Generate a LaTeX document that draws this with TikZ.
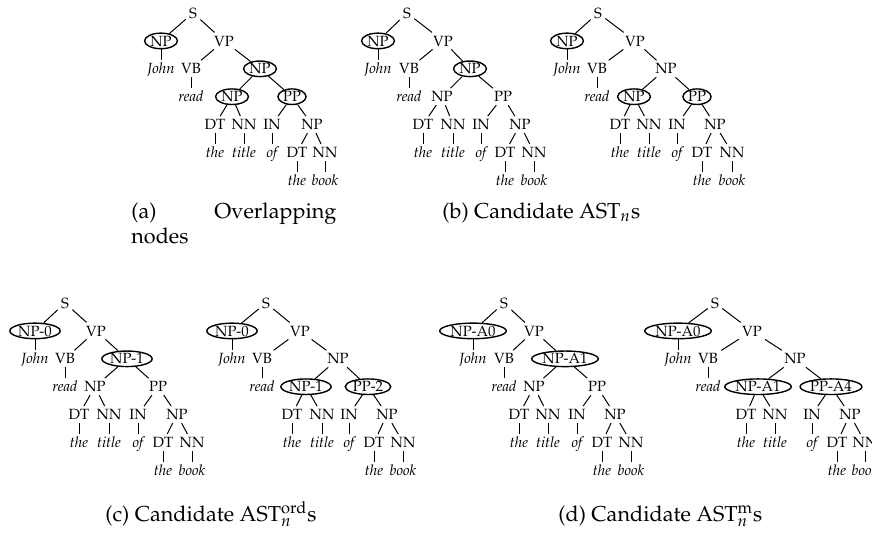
\documentclass[tikz,border=0pt]{standalone}
\usepackage[T1]{fontenc}
\usepackage{mathpazo}
\usetikzlibrary{shapes,calc}
\tikzset{
  lab/.style={inner sep=1.5pt,text height=5.1pt,text depth=0pt,font=\fontsize{7.4}{9}\selectfont},
  leaf/.style={lab,font=\fontsize{7.4}{9}\selectfont\itshape},
  ov/.style={lab,ellipse,draw,line width=.7pt,inner xsep=.5pt,inner ysep=.2pt},
  link/.style={line width=.5pt},
  capt/.style={inner sep=0pt,font=\fontsize{10.8}{13}\selectfont}
}
% one parse tree: prefix, y of the root, inner nodes name/x/row/style/label
\newcommand{\asttree}[3]{%
  \foreach \n/\x/\r/\s/\lbl in {#3}
    \node[\s] (#1\n) at (\x,#2+27.9*\r) {\lbl};
  \foreach \pa/\ch/\w in {np0/john/John,vb/read/read,dt1/the1/the,nn1/title/title,in/of/of,dt2/the2/the,nn2/book/book}
    \node[leaf] (#1\ch) at ($(#1\pa)+(0,27.9)$) {\w};
  \foreach \pa/\ch in {s/np0,s/vp,np0/john,vp/vb,vp/np1,vb/read,np1/np2,np1/pp,np2/dt1,np2/nn1,pp/in,pp/np3,dt1/the1,nn1/title,in/of,np3/dt2,np3/nn2,dt2/the2,nn2/book}
    \draw[link] (#1\pa) -- (#1\ch);
}
\begin{document}
\begin{tikzpicture}[x=0.5pt,y=-0.5pt]
\useasboundingbox (0,0) rectangle (872,532);
\clip (0,0) rectangle (872,532);
%(a) overlapping nodes
\asttree{a-}{13}{s/193/0/lab/S,np0/161/1/ov/NP,vp/224/1/lab/VP,vb/191/2/lab/VB,np1/260/2/ov/NP,np2/232/3/ov/NP,pp/292/3/ov/PP,
  dt1/215/4/lab/DT,nn1/244/4/lab/NN,in/272/4/lab/IN,np3/312/4/lab/NP,dt2/297/5/lab/DT,nn2/325/5/lab/NN}
%(b) candidates
\asttree{b-}{13}{s/407/0/lab/S,np0/378/1/ov/NP,vp/443/1/lab/VP,vb/409/2/lab/VB,np1/470/2/ov/NP,np2/442/3/lab/NP,pp/503/3/lab/PP,
  dt1/423/4/lab/DT,nn1/453/4/lab/NN,in/481/4/lab/IN,np3/520/4/lab/NP,dt2/505/5/lab/DT,nn2/534/5/lab/NN}
\asttree{bb-}{13}{s/598/0/lab/S,np0/567/1/ov/NP,vp/635/1/lab/VP,vb/597/2/lab/VB,np1/666/2/lab/NP,np2/634/3/ov/NP,pp/697/3/ov/PP,
  dt1/620/4/lab/DT,nn1/649/4/lab/NN,in/677/4/lab/IN,np3/715/4/lab/NP,dt2/702/5/lab/DT,nn2/732/5/lab/NN}
%(c) ord
\asttree{c-}{303}{s/65/0/lab/S,np0/35/1/ov/NP-0,vp/96/1/lab/VP,vb/65/2/lab/VB,np1/127/2/ov/NP-1,np2/95/3/lab/NP,pp/158/3/lab/PP,
  dt1/79/4/lab/DT,nn1/109/4/lab/NN,in/138/4/lab/IN,np3/177/4/lab/NP,dt2/163/5/lab/DT,nn2/192/5/lab/NN}
\asttree{cc-}{303}{s/266/0/lab/S,np0/232/1/ov/NP-0,vp/300/1/lab/VP,vb/262/2/lab/VB,np1/338/2/lab/NP,np2/306/3/ov/NP-1,pp/368/3/ov/PP-2,
  dt1/292/4/lab/DT,nn1/322/4/lab/NN,in/349/4/lab/IN,np3/387/4/lab/NP,dt2/374/5/lab/DT,nn2/403/5/lab/NN}
%(d) m
\asttree{d-}{303}{s/504/0/lab/S,np0/473/1/ov/NP-A0,vp/534/1/lab/VP,vb/504/2/lab/VB,np1/565/2/ov/NP-A1,np2/534/3/lab/NP,pp/597/3/lab/PP,
  dt1/519/4/lab/DT,nn1/548/4/lab/NN,in/577/4/lab/IN,np3/615/4/lab/NP,dt2/602/5/lab/DT,nn2/631/5/lab/NN}
\asttree{dd-}{303}{s/715/0/lab/S,np0/678/1/ov/NP-A0,vp/752/1/lab/VP,vb/708/2/lab/VB,np1/795/2/lab/NP,np2/758/3/ov/NP-A1,pp/831/3/ov/PP-A4,
  dt1/746/4/lab/DT,nn1/775/4/lab/NN,in/812/4/lab/IN,np3/850/4/lab/NP,dt2/837/5/lab/DT,nn2/865/5/lab/NN}
%captions
\node[capt,anchor=base west] (capa) at (131,218) {\makebox[102.5pt][s]{(a) Overlapping}};
\node[capt,anchor=base west] (capa2) at (131,243) {nodes};
\node[capt,anchor=base west] (capb) at (442,218) {(b) Candidate AST$_n$s};
\node[capt,anchor=base west] (capc) at (105,521) {(c) Candidate AST$_n^{\mathrm{ord}}$s};
\node[capt,anchor=base west] (capd) at (558,521) {(d) Candidate AST$_n^{\mathrm{m}}$s};
\end{tikzpicture}
\end{document}
